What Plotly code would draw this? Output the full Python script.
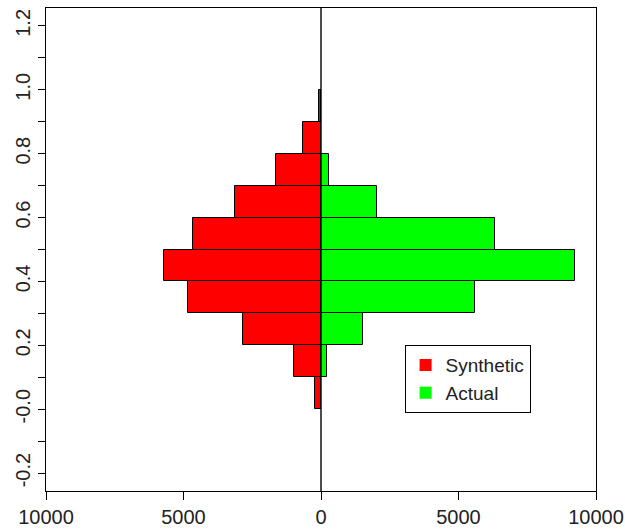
import plotly.graph_objects as go

# Histogram bins (0.1 wide) and counts for each group
bin_starts = [0.0, 0.1, 0.2, 0.3, 0.4, 0.5, 0.6, 0.7, 0.8, 0.9]
synthetic_counts = [230, 1000, 2820, 4830, 5700, 4650, 3130, 1640, 640, 90]
actual_counts = [0, 200, 1510, 5610, 9220, 6340, 2020, 275, 0, 0]

x_tick_vals = [-10000, -5000, 0, 5000, 10000]
x_tick_text = ["10000", "5000", "0", "5000", "10000"]
y_tick_vals = [-0.2, 0.0, 0.2, 0.4, 0.6, 0.8, 1.0, 1.2]
y_tick_text = ["-0.2", "-0.0", "0.2", "0.4", "0.6", "0.8", "1.0", "1.2"]
y_minor_vals = [-0.1, 0.1, 0.3, 0.5, 0.7, 0.9, 1.1]

bin_width = 0.1
centers = [b + bin_width / 2 for b in bin_starts]

RED = "#ff0000"
GREEN = "#00ff00"
FONT = "Liberation Sans, Arial, sans-serif"

fig = go.Figure()

fig.add_trace(go.Bar(
    y=centers, x=[-c for c in synthetic_counts], base=0, width=bin_width,
    orientation="h", marker=dict(color=RED, line=dict(color="black", width=1)),
    showlegend=False, hoverinfo="skip",
))
fig.add_trace(go.Bar(
    y=centers, x=actual_counts, base=0, width=bin_width,
    orientation="h", marker=dict(color=GREEN, line=dict(color="black", width=1)),
    showlegend=False, hoverinfo="skip",
))

# Legend entries as small square markers
for name, col in [("Synthetic", RED), ("Actual", GREEN)]:
    fig.add_trace(go.Scatter(
        x=[None], y=[None], mode="markers", name=name,
        marker=dict(symbol="square", size=7, color=col),
    ))

# Vertical line at zero
fig.add_shape(type="line", xref="x", yref="paper", x0=0, x1=0, y0=0, y1=1,
              line=dict(color="black", width=1.4))

fig.update_layout(
    width=625, height=532,
    margin=dict(l=46, r=29, t=8, b=41, autoexpand=False),
    paper_bgcolor="white", plot_bgcolor="white",
    barmode="overlay", bargap=0,
    font=dict(family=FONT, size=20, color="#222222"),
    legend=dict(
        x=0.652, y=0.302, xanchor="left", yanchor="top",
        bgcolor="white", bordercolor="black", borderwidth=1,
        font=dict(size=19, color="#222222"),
        itemsizing="constant", tracegroupgap=0,
    ),
    xaxis=dict(
        range=[-10000, 10000], tickvals=x_tick_vals, ticktext=x_tick_text,
        ticks="outside", ticklen=8, tickcolor="black", tickwidth=1,
        showline=True, linecolor="black", linewidth=1, mirror=True,
        showgrid=False, zeroline=False, fixedrange=True, automargin=False,
    ),
    yaxis=dict(
        range=[-0.256, 1.256], tickvals=y_tick_vals, ticktext=y_tick_text,
        tickangle=-90,
        ticks="outside", ticklen=7, tickcolor="black", tickwidth=1,
        minor=dict(tickvals=y_minor_vals, ticks="outside", ticklen=7,
                   tickcolor="black", tickwidth=1, showgrid=False),
        showline=True, linecolor="black", linewidth=1, mirror=True,
        showgrid=False, zeroline=False, fixedrange=True, automargin=False,
    ),
)

fig.write_html("out.html")
